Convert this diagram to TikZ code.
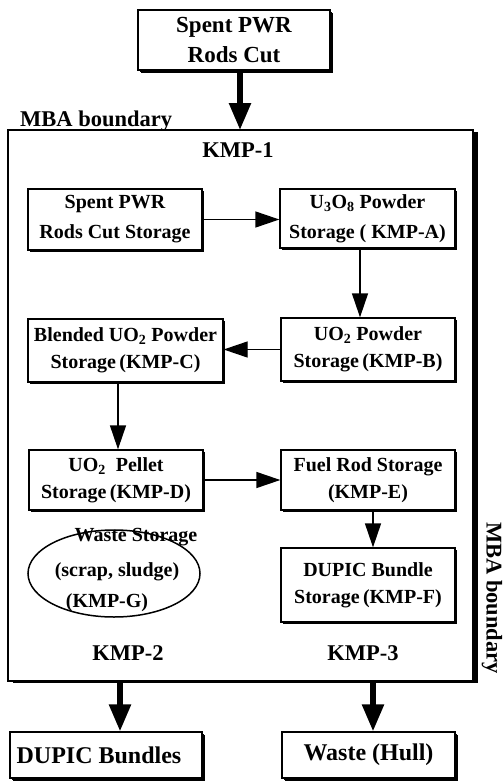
\documentclass[tikz,border=0pt]{standalone}
\usepackage{fontspec}
\setmainfont{Liberation Serif}
\usetikzlibrary{arrows.meta,shadows,shapes.geometric}
\begin{document}
\begin{tikzpicture}[x=1pt,y=-1pt,
  box/.style={draw, line width=1.3pt, fill=white, align=center, inner sep=0pt,
    font=\bfseries\fontsize{20}{27}\selectfont,
    drop shadow={shadow xshift=2pt, shadow yshift=-2pt, opacity=1, fill=black}},
  bigbox/.style={box, font=\bfseries\fontsize{24}{30}\selectfont,
    drop shadow={shadow xshift=3pt, shadow yshift=-3pt, opacity=1, fill=black}},
  lbl/.style={inner sep=0pt, font=\bfseries\fontsize{22.5}{26}\selectfont},
  txt/.style={inner sep=0pt, font=\bfseries\fontsize{20}{26}\selectfont},
  arr/.style={line width=1.3pt, -{Triangle[length=24pt,width=16pt]}},
  bigarr/.style={line width=5.5pt, -{Triangle[length=27pt,width=21pt]}}
]
\useasboundingbox (0,0) rectangle (503,784);

% top input box
\node[bigbox, font=\bfseries\fontsize{23}{30}\selectfont, minimum width=192pt, minimum height=60pt] (top) at (234,40) {Spent PWR\\Rods Cut};

% MBA boundary
\node[draw, line width=1.5pt, fill=white, inner sep=0pt, minimum width=465pt, minimum height=551pt,
  drop shadow={shadow xshift=5pt, shadow yshift=-2pt, opacity=1, fill=black}] (mba) at (240.5,405.5) {};
\node[lbl, anchor=base west] (mbal) at (20,126) {MBA boundary};
\node[lbl, rotate=-90] (mbar) at (492,598) {MBA boundary};

\coordinate (in) at (240,130);
\draw[bigarr] (top.south -| in) -- (in);

\node[lbl] (kmp1) at (238,150) {KMP-1};
\node[lbl] (kmp2) at (128,653) {KMP-2};
\node[lbl] (kmp3) at (363,653) {KMP-3};

% inner boxes
\node[box, minimum width=174pt, minimum height=61pt, font=\bfseries\fontsize{20}{30}\selectfont] (a) at (115,219.5) {Spent PWR\\Rods Cut Storage};
\node[box, minimum width=175pt, minimum height=59pt, font=\bfseries\fontsize{20}{30}\selectfont] (u) at (367.5,218.5) {U\textsubscript{3}O\textsubscript{8} Powder\\Storage ( KMP-A)};
\node[box, minimum width=174pt, minimum height=63pt] (b) at (368,349.5) {UO\textsubscript{2} Powder\\Storage\,(KMP-B)};
\node[box, minimum width=195pt, minimum height=63pt] (c) at (125.5,350.5) {Blended UO\textsubscript{2} Powder\\Storage\,(KMP-C)};
\node[box, minimum width=174pt, minimum height=60pt] (d) at (116,480) {UO\textsubscript{2}\ \ Pellet\\Storage\,(KMP-D)};
\node[box, minimum width=174pt, minimum height=60pt] (e) at (368,480) {Fuel Rod Storage\\(KMP-E)};
\node[box, minimum width=174pt, minimum height=74pt] (f) at (368,585) {DUPIC Bundle\\Storage\,(KMP-F)};

% waste ellipse
\node[draw, ellipse, line width=1.5pt, inner sep=0pt, minimum width=172pt, minimum height=87pt] (g) at (114,573.5) {};
\node[txt] (g1) at (136,537) {Waste Storage};
\node[txt] (g2) at (117,572) {(scrap, sludge)};
\node[txt] (g3) at (107,603) {(KMP-G)};

% inner arrows
\draw[arr] (a.east) -- (a.east -| u.west);
\draw[arr] ([xshift=-7.5pt]u.south) -- ([xshift=-7.5pt]u.south |- b.north);
\draw[arr] (b.west) -- (b.west -| c.east);
\draw[arr] ([xshift=-7.5pt]c.south) -- ([xshift=-7.5pt]c.south |- d.north);
\draw[arr] (d.east) -- (d.east -| e.west);
\draw[arr] ([xshift=5pt]e.south) -- ([xshift=5pt]e.south |- f.north);

% outputs
\node[bigbox, minimum width=192pt, minimum height=46pt] (bund) at (106,755) {DUPIC Bundles\hspace*{14pt}};
\node[bigbox, minimum width=173pt, minimum height=46pt] (hull) at (368.5,755) {Waste (Hull)};
\coordinate (o2) at (120,681);
\coordinate (o3) at (373,681);
\draw[bigarr] (o2) -- (o2 |- bund.north);
\draw[bigarr] (o3) -- (o3 |- hull.north);
\end{tikzpicture}
\end{document}
